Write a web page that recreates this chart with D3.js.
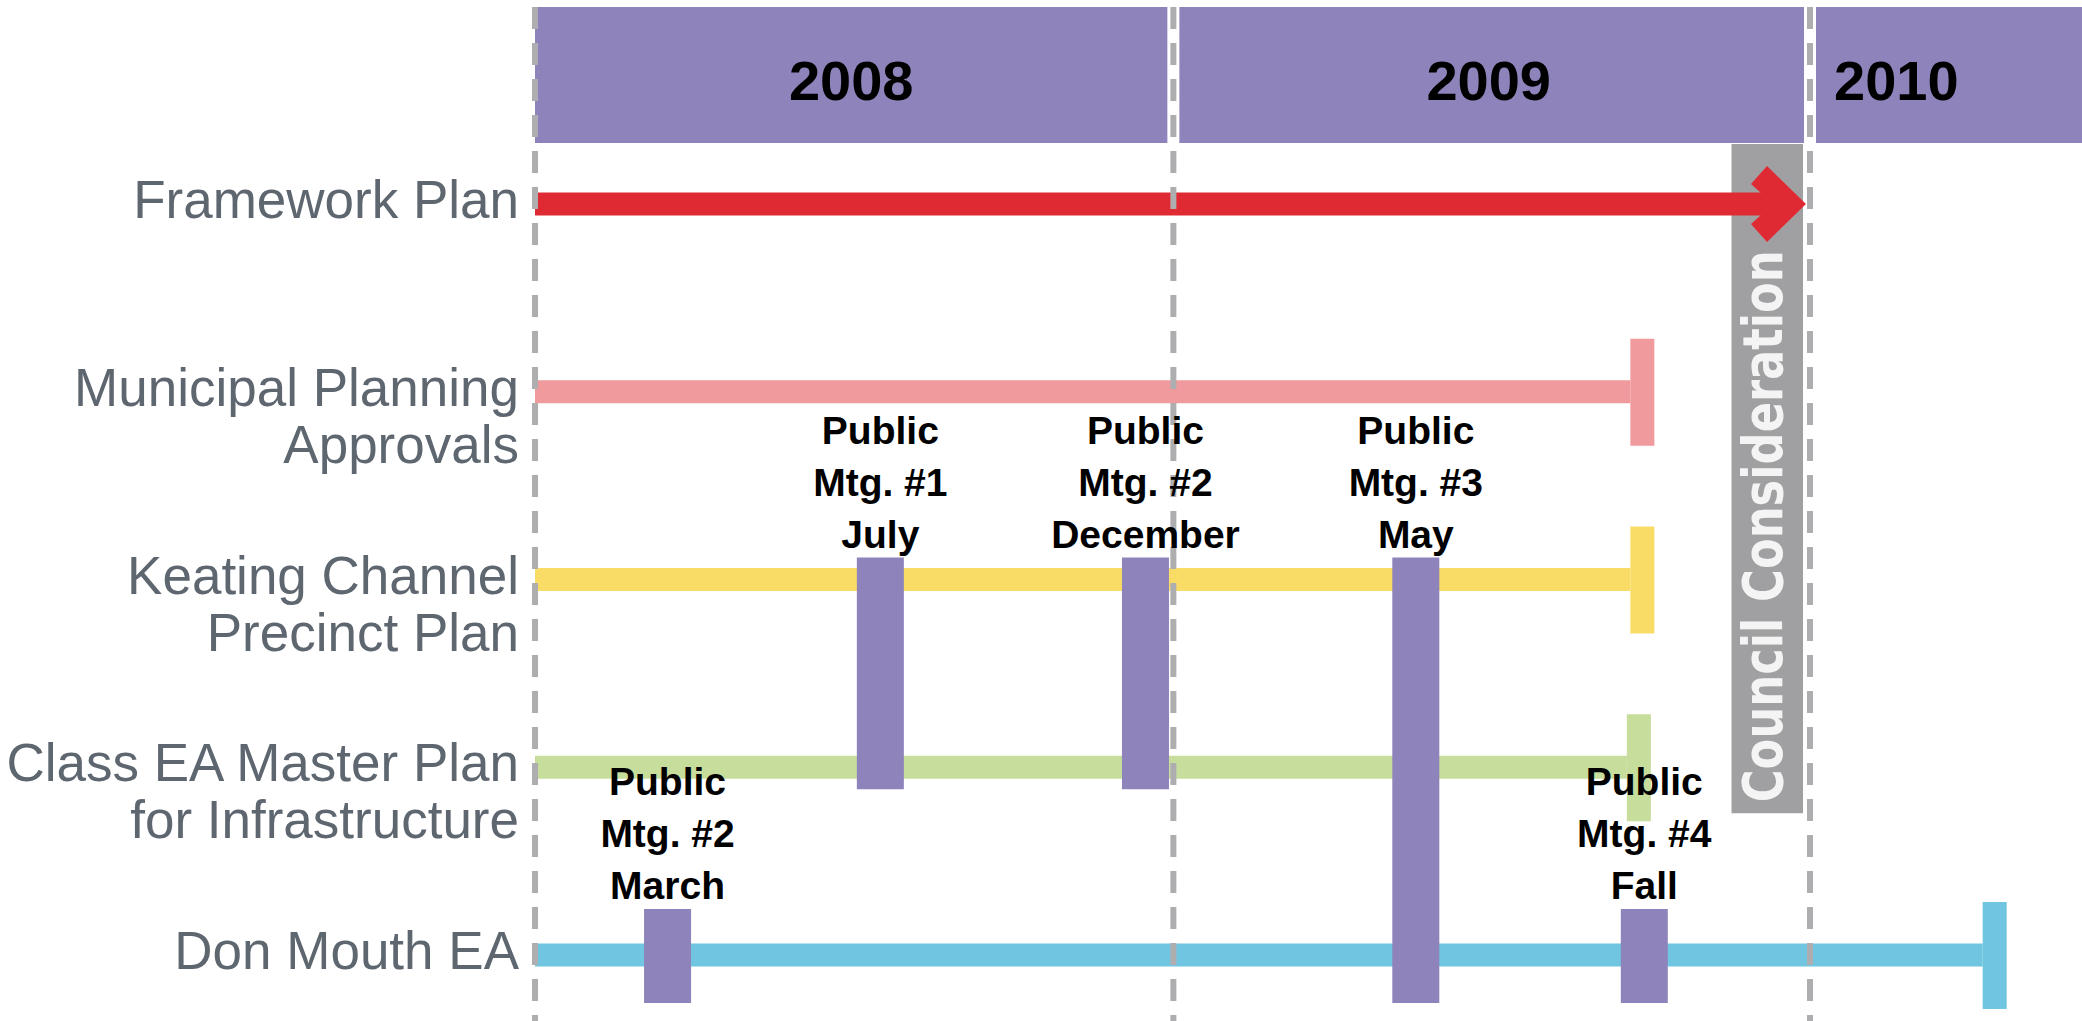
<!doctype html>
<head>
  <style>
    body {
      margin: 0;
      background: #fff;
    }
    svg {
      display: block;
    }
    .rowLabel {
      font-family: "Liberation Sans", Arial, sans-serif;
      font-size: 53px;
      fill: #5e6670;
    }
    .yearLabel {
      font-family: "Liberation Sans", Arial, sans-serif;
      font-weight: bold;
      font-size: 56px;
      fill: #000;
    }
    .mtgLabel {
      font-family: "Liberation Sans", Arial, sans-serif;
      font-weight: bold;
      font-size: 39px;
      fill: #000;
    }
    .council {
      font-family: "DejaVu Sans", Verdana, sans-serif;
      font-weight: bold;
      font-size: 55px;
      fill: #f4f4f4;
    }
  </style>
<script src="https://cdnjs.cloudflare.com/ajax/libs/d3/7.8.5/d3.min.js"></script>
</head>
<body>
<script>

// years across the top
var years = ["2008", "2009", "2010"];
var yearStarts = ["2008-01-01", "2009-01-01", "2010-01-01"];
var yearEnds = ["2009-01-01", "2010-01-01", "2011-01-01"];

// the five work streams
var trackNames = ["Framework Plan", "Municipal Planning Approvals", "Keating Channel Precinct Plan",
                  "Class EA Master Plan for Infrastructure", "Don Mouth EA"];
var trackLabels = [["Framework Plan"], ["Municipal Planning", "Approvals"], ["Keating Channel", "Precinct Plan"],
                   ["Class EA Master Plan", "for Infrastructure"], ["Don Mouth EA"]];
var trackStart = ["2008-01-01", "2008-01-01", "2008-01-01", "2008-01-01", "2008-01-01"];
var trackEnd = ["2010-01-01", "2009-09-20", "2009-09-20", "2009-09-18", "2010-04-10"];
var trackEndType = ["arrow", "cap", "cap", "cap", "cap"];
var trackColors = ["#e02a33", "#f09a9d", "#f9dc66", "#c7dd9c", "#70c5e1"];

// public meetings: date, first and last stream they cover
var meetingLabels = [["Public", "Mtg. #2", "March"], ["Public", "Mtg. #1", "July"], ["Public", "Mtg. #2", "December"],
                     ["Public", "Mtg. #3", "May"], ["Public", "Mtg. #4", "Fall"]];
var meetingDates = ["2008-03-17", "2008-07-17", "2008-12-16", "2009-05-20", "2009-09-28"];
var meetingFrom = ["Don Mouth EA", "Keating Channel Precinct Plan", "Keating Channel Precinct Plan",
                   "Keating Channel Precinct Plan", "Don Mouth EA"];
var meetingTo = ["Don Mouth EA", "Class EA Master Plan for Infrastructure", "Class EA Master Plan for Infrastructure",
                 "Don Mouth EA", "Don Mouth EA"];

var councilLabel = "Council Consideration";
var councilDates = ["2009-11-17", "2009-12-28"];

var W = 2082, H = 1021;
var purple = "#8f83bc";
var parse = d3.timeParse("%Y-%m-%d");

var svg = d3.select("body").append("svg")
  .attr("width", W)
  .attr("height", H);

var x = d3.scaleTime()
  .domain([parse("2008-01-01"), parse("2010-01-01")])
  .range([535, 1810]);

var y = d3.scalePoint()
  .domain(trackNames)
  .range([204, 955]);

var lastRow = trackNames[trackNames.length - 1];
var barH = 23;

// year bands
var bandTop = 7, bandBottom = 143;
var bands = svg.selectAll(".band")
  .data(years).enter()
  .append("g")
  .attr("class", "band");

bands.append("rect")
  .attr("x", function(d, i) { return i == 0 ? x(parse(yearStarts[i])) : x(parse(yearStarts[i])) + 6; })
  .attr("y", bandTop)
  .attr("width", function(d, i) {
    var l = i == 0 ? x(parse(yearStarts[i])) : x(parse(yearStarts[i])) + 6;
    return x(parse(yearEnds[i])) - 6 - l;
  })
  .attr("height", bandBottom - bandTop)
  .attr("fill", purple);

bands.append("text")
  .attr("class", "yearLabel")
  .attr("x", function(d, i) {
    var l = x(parse(yearStarts[i])) + 6;
    var r = x(parse(yearEnds[i])) - 6;
    if (r > W) {
      return l + 18;
    }
    return (x(parse(yearStarts[i])) + r) / 2;
  })
  .attr("y", 100)
  .attr("text-anchor", function(d, i) { return x(parse(yearEnds[i])) - 6 > W ? "start" : "middle"; })
  .text(function(d) { return d; });

// council consideration bar
var cx0 = x(parse(councilDates[0])), cx1 = x(parse(councilDates[1]));
var councilBottom = y("Class EA Master Plan for Infrastructure") + 46;
svg.append("rect")
  .attr("x", cx0)
  .attr("y", bandBottom + 1)
  .attr("width", cx1 - cx0)
  .attr("height", councilBottom - bandBottom - 1)
  .attr("fill", "#a0a0a2");

svg.append("text")
  .attr("class", "council")
  .attr("transform", "translate(" + ((cx0 + cx1) / 2 + 15) + "," + (councilBottom - 11) + ") rotate(-90)")
  .attr("textLength", 552)
  .attr("lengthAdjust", "spacingAndGlyphs")
  .text(councilLabel);

// row labels
var labels = svg.selectAll(".rowLabel")
  .data(trackNames).enter()
  .append("text")
  .attr("class", "rowLabel")
  .attr("text-anchor", "end")
  .attr("x", x(parse("2008-01-01")) - 16)
  .attr("y", function(d) { return y(d) + 14; });

labels.selectAll("tspan")
  .data(function(d, i) { return trackLabels[i]; })
  .enter().append("tspan")
  .attr("x", x(parse("2008-01-01")) - 16)
  .attr("dy", function(d, i) { return i == 0 ? 0 : 57; })
  .text(function(d) { return d; });

// stream bars
svg.selectAll(".track")
  .data(trackNames).enter()
  .append("rect")
  .attr("class", "track")
  .attr("x", function(d, i) { return x(parse(trackStart[i])); })
  .attr("y", function(d) { return y(d) - barH / 2; })
  .attr("width", function(d, i) {
    var e = x(parse(trackEnd[i]));
    if (trackEndType[i] == "arrow") {
      e = e - 49;
    }
    return e - x(parse(trackStart[i]));
  })
  .attr("height", barH)
  .attr("fill", function(d, i) { return trackColors[i]; });

// end caps
svg.selectAll(".cap")
  .data(trackNames.filter(function(d, i) { return trackEndType[i] == "cap"; })).enter()
  .append("rect")
  .attr("class", "cap")
  .attr("x", function(d) { return x(parse(trackEnd[trackNames.indexOf(d)])); })
  .attr("y", function(d) { return y(d) - 53; })
  .attr("width", 24)
  .attr("height", 107)
  .attr("fill", function(d) { return trackColors[trackNames.indexOf(d)]; });

// arrow heads
svg.selectAll(".arrow")
  .data(trackNames.filter(function(d, i) { return trackEndType[i] == "arrow"; })).enter()
  .append("polygon")
  .attr("class", "arrow")
  .attr("points", function(d) {
    var tx = x(parse(trackEnd[trackNames.indexOf(d)])) - 4;
    var ty = y(d);
    var pts = [[-45, -11], [-55, -20], [-39, -38], [0, 0], [-39, 38], [-55, 20], [-45, 11]];
    return pts.map(function(p) { return (tx + p[0]) + "," + (ty + p[1]); }).join(" ");
  })
  .attr("fill", function(d) { return trackColors[trackNames.indexOf(d)]; });

// meetings
var mtgW = 47;
function mtgTop(i) {
  return y(meetingFrom[i]) - (meetingFrom[i] == lastRow ? 46 : 22);
}
function mtgBottom(i) {
  return y(meetingTo[i]) + (meetingTo[i] == lastRow ? 48 : 22);
}

svg.selectAll(".mtg")
  .data(meetingDates).enter()
  .append("rect")
  .attr("class", "mtg")
  .attr("x", function(d) { return x(parse(d)) - mtgW / 2; })
  .attr("y", function(d, i) { return mtgTop(i); })
  .attr("width", mtgW)
  .attr("height", function(d, i) { return mtgBottom(i) - mtgTop(i); })
  .attr("fill", purple);

// year dividers
svg.selectAll(".divider")
  .data(yearStarts).enter()
  .append("line")
  .attr("class", "divider")
  .attr("x1", function(d) { return x(parse(d)); })
  .attr("x2", function(d) { return x(parse(d)); })
  .attr("y1", 7)
  .attr("y2", H)
  .attr("stroke", "#aeaeb0")
  .attr("stroke-width", 6)
  .attr("stroke-dasharray", "22,14");

// meeting labels
var mtgText = svg.selectAll(".mtgLabel")
  .data(meetingDates).enter()
  .append("text")
  .attr("class", "mtgLabel")
  .attr("text-anchor", "middle")
  .attr("x", function(d) { return x(parse(d)); })
  .attr("y", function(d, i) { return mtgTop(i) - 10 - 52 * (meetingLabels[i].length - 1); });

mtgText.selectAll("tspan")
  .data(function(d, i) { return meetingLabels[i].map(function(t) { return [t, d]; }); })
  .enter().append("tspan")
  .attr("x", function(d) { return x(parse(d[1])); })
  .attr("dy", function(d, i) { return i == 0 ? 0 : 52; })
  .text(function(d) { return d[0]; });

</script>
</body>
